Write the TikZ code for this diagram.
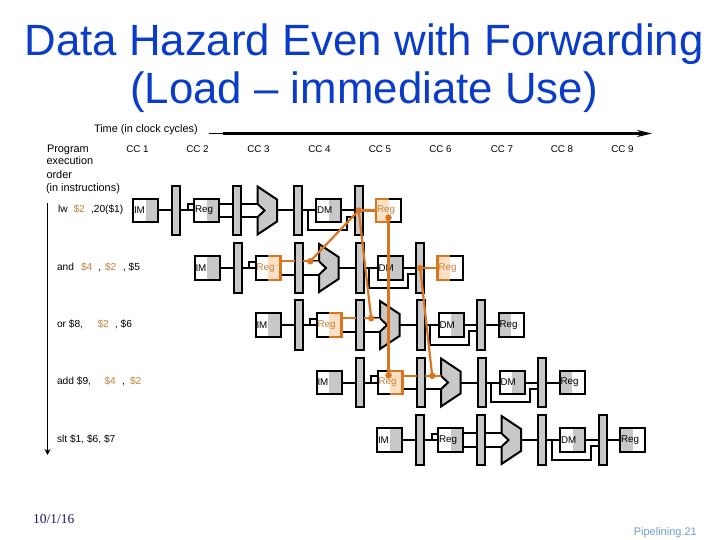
\documentclass[tikz,border=0pt]{standalone}
\usepackage{fontspec}
\setmainfont{Liberation Sans}
\newfontfamily\serifdate{Liberation Serif}
\usetikzlibrary{arrows.meta,calc}
\definecolor{latchgray}{RGB}{200,200,200}
\definecolor{fwdorange}{RGB}{217,118,35}
\definecolor{fwdlight}{RGB}{252,224,198}
\definecolor{fwdtext}{RGB}{196,132,60}
\definecolor{datenavy}{RGB}{25,25,110}
\definecolor{pagenum}{RGB}{110,160,205}
\definecolor{titleblue}{RGB}{10,60,200}
\tikzset{
  x=1pt,y=-1pt,
  small/.style={font=\fontsize{10.9}{12}\selectfont,inner sep=0pt,outer sep=0pt,anchor=base west},
  instr/.style={font=\fontsize{10.2}{12}\selectfont,inner sep=0pt,outer sep=0pt,anchor=base west},
  ccl/.style={font=\fontsize{9.8}{11}\selectfont,inner sep=0pt,anchor=base},
  titlet/.style={font=\fontsize{43.8}{50}\selectfont,inner sep=0pt,anchor=base,text=titleblue},
  wire/.style={draw=black,line width=2pt},
  fwd/.style={draw=fwdorange,line width=2.2pt},
  fwdthin/.style={draw=fwdorange,line width=1.6pt},
  latch/.style={draw=black,line width=2pt,fill=latchgray,minimum width=8pt,minimum height=49.5pt,inner sep=0pt,outer sep=0pt},
  unit/.style={draw=black,line width=2pt,fill=white,minimum width=25pt,minimum height=23.5pt,inner sep=0pt,outer sep=0pt,
    font=\fontsize{9.8}{11}\selectfont,text width=23pt,align=left},
  halfr/.style={path picture={\fill[#1] (path picture bounding box.north) rectangle (path picture bounding box.south east);}},
  halfl/.style={path picture={\fill[#1] (path picture bounding box.north west) rectangle (path picture bounding box.south);}},
  alu/.style={draw=black,line width=2pt,fill=latchgray,line join=miter},
  fwddot/.style={circle,fill=fwdorange,minimum size=6.5pt,inner sep=0pt,outer sep=0pt},
  idplain/.style={halfr=latchgray},
  idfwd/.style={halfr=fwdlight,text=fwdtext},
  wbplain/.style={halfl=latchgray},
  wbfwd/.style={halfl=fwdlight,text=fwdtext},
}
% #1 prefix, #2 x of IM, #3 row centre, #4 style of ID Reg, #5 style of WB Reg
\newcommand{\piperow}[5]{%
  \coordinate (#1u) at (#2,#3-6.7);
  \coordinate (#1d) at (#2,#3+6.7);
  \coordinate (#1c) at (#2,#3);
  \coordinate (#1fp) at (#2+116.7,#3-6.7);
  \node[unit,halfr=latchgray] (#1im) at (#2+13.5,#3) {IM};
  \node[latch] (#1la) at (#2+44.3,#3) {};
  \node[unit,#4] (#1id) at (#2+74.5,#3) {Reg};
  \node[latch] (#1lb) at (#2+105,#3) {};
  \node[latch] (#1lc) at (#2+166,#3) {};
  \node[unit,halfr=latchgray] (#1dm) at (#2+196.5,#3) {DM};
  \node[latch] (#1ld) at (#2+226.7,#3) {};
  \node[unit,#5] (#1wb) at (#2+256.5,#3) {Reg};
  \coordinate (#1alua) at (#2+125.5,#3-24);
  \coordinate (#1alub) at (#2+145,#3-11);
  \coordinate (#1aluc) at (#2+145,#3+11);
  \coordinate (#1alud) at (#2+125.5,#3+24);
  \coordinate (#1alue) at (#2+125.5,#3+6.7);
  \coordinate (#1aluf) at (#2+132.5,#3);
  \coordinate (#1alug) at (#2+125.5,#3-6.7);
  \draw[alu] (#1alua) -- (#1alub) -- (#1aluc) -- (#1alud) -- (#1alue) -- (#1aluf) -- (#1alug) -- cycle;
  \coordinate (#1alur) at ($(#1alub)!.5!(#1aluc)$);
  \path[wire] (#1im.east) -- (#1la.west);
  \path[wire] (#1la.east) -- (#1id.west);
  \path[wire] (#1id.west |- #1c) ++(-6.5,0) -- ++(0,-6.5) -- ++(6.5,0);
  \path[wire] (#1id.east |- #1u) -- (#1lb.west |- #1u);
  \path[wire] (#1id.east |- #1d) -- (#1lb.west |- #1d);
  \path[wire] (#1lb.east |- #1u) -- (#1alug);
  \path[wire] (#1lb.east |- #1d) -- (#1alue);
  \path[wire] (#1alur) -- (#1lc.west);
  \path[wire] (#1lc.east) -- (#1dm.west);
  \path[wire] (#1dm.east) -- (#1ld.west);
  \path[wire] (#1lc.east) ++(5.5,0) -- ++(0,19.5) -| ([xshift=5.5pt,yshift=-6.2pt]#1dm.east) -- ([yshift=-6.2pt]#1ld.west);
  \path[wire] (#1ld.east) -- (#1wb.west);
}
\begin{document}
\begin{tikzpicture}[line cap=butt]
\useasboundingbox (0,0) rectangle (720,540);
\fill[white] (0,0) rectangle (720,540);

\node[titlet] (t1) at (364,56) {Data Hazard Even with Forwarding};
\node[titlet] (t2) at (364,104) {(Load – immediate Use)};

\node[small] (time) at (94,133) {Time (in clock cycles)};
\coordinate (tstart) at (209,133.5);
\coordinate (tthick) at (223,133.5);
\coordinate (tend) at (652,133.5);
\draw[line width=.8pt] (tstart) -- (tthick);
\draw[line width=2.2pt,-{Stealth[length=15pt,width=7pt]}] (tthick) -- (tend);

\node[small] (p1) at (47,152.5) {Program};
\node[small] (p2) at (46.5,165) {execution};
\node[small] (p3) at (46.5,178.5) {order};
\node[small] (p4) at (46,191.5) {(in instructions)};
\coordinate (ostart) at (47.5,203);
\coordinate (oend) at (47.5,455);
\draw[line width=1.2pt,-{Stealth[length=6pt,width=6pt]}] (ostart) -- (oend);

\node[ccl] (cc1) at (137.5,152.5) {CC 1};
\node[ccl] (cc2) at (197.5,152.5) {CC 2};
\node[ccl] (cc3) at (258.5,152.5) {CC 3};
\node[ccl] (cc4) at (319.5,152.5) {CC 4};
\node[ccl] (cc5) at (380,152.5) {CC 5};
\node[ccl] (cc6) at (440.5,152.5) {CC 6};
\node[ccl] (cc7) at (502,152.5) {CC 7};
\node[ccl] (cc8) at (562,152.5) {CC 8};
\node[ccl] (cc9) at (622.5,152.5) {CC 9};

\node[instr] (a1) at (58,212.5) {lw};
\node[instr,text=fwdtext] (a2) at (73.5,212.5) {\$2};
\node[instr] (a3) at (91,212.5) {,20(\$1)};
\node[instr] (b1) at (57,270.5) {and};
\node[instr,text=fwdtext] (b2) at (81,270.5) {\$4};
\node[instr] (b3) at (98,270.5) {,};
\node[instr,text=fwdtext] (b4) at (105,270.5) {\$2};
\node[instr] (b5) at (123,270.5) {, \$5};
\node[instr] (c1) at (57,327) {or \$8,};
\node[instr,text=fwdtext] (c2) at (97.5,327) {\$2};
\node[instr] (c3) at (115,327) {, \$6};
\node[instr] (d1) at (57,384) {add \$9,};
\node[instr,text=fwdtext] (d2) at (104.5,384) {\$4};
\node[instr] (d3) at (122,384) {,};
\node[instr,text=fwdtext] (d4) at (130,384) {\$2};
\node[instr] (e1) at (57,442) {slt \$1, \$6, \$7};

\piperow{ra}{132}{210.5}{idplain}{wbfwd}
\piperow{rb}{193.5}{268}{idfwd}{wbfwd}
\piperow{rc}{254.5}{325}{idfwd}{wbplain}
\piperow{rd}{315.5}{382.5}{idfwd}{wbplain}
\piperow{re}{376}{440}{idplain}{wbplain}

% orange outlines of the registers that take part
\draw[fwd] (rawb.north) -- (rawb.north west) -- (rawb.south west) -- (rawb.south);
\draw[fwd] (rbwb.north) -- (rbwb.north west) -- (rbwb.south west) -- (rbwb.south);
\draw[fwd] (rbid.north) -- (rbid.north east) -- (rbid.south east) -- (rbid.south);
\draw[fwd] (rcid.north) -- (rcid.north east) -- (rcid.south east) -- (rcid.south);
\draw[fwd] (rdid.north) -- (rdid.north east) -- (rdid.south east) -- (rdid.south);

% forwarding paths
\coordinate (fwx) at ([yshift=7pt]rdid.center);
\draw[fwd] (rald.center) -- (rawb.west);
\draw[fwd] (rbld.center) -- (rbwb.west);
\draw[fwd] (rald.center) -- (rbfp);
\draw[fwd] (rald.center) -- (rcfp);
\draw[fwd] (rbld.center) -- (rdfp);
\draw[fwd] (rawb.center |- fwx) -- ([yshift=-7pt]rawb.center);
\draw[fwd] (rbid.east |- rbu) -- (rblb.west |- rbu);
\draw[fwd] (rblb.east |- rbu) -- (rbfp);
\draw[fwdthin] (rbfp) -- (rbalug);
\draw[fwd] (rcid.east |- rcu) -- (rclb.west |- rcu);
\draw[fwd] (rclb.east |- rcu) -- (rcfp);
\draw[fwdthin] (rcfp) -- (rcalug);
\draw[fwd] (rdid.east |- rdu) -- (rdlb.west |- rdu);
\draw[fwd] (rdlb.east |- rdu) -- (rdfp);
\draw[fwdthin] (rdfp) -- (rdalug);
\node[fwddot] (fa) at (rald.center) {};
\node[fwddot] (fb) at (rbld.center) {};
\node[fwddot] (fw) at ([yshift=-7pt]rawb.center) {};
\node[fwddot] (fr) at (rawb.center |- fwx) {};
\node[fwddot] (fpb) at (rbfp) {};
\node[fwddot] (fpc) at (rcfp) {};
\node[fwddot] (fpd) at (rdfp) {};

\node[font=\serifdate\fontsize{13.5}{15}\selectfont,text=datenavy,inner sep=0pt,anchor=base west] (date) at (33,523) {10/1/16};
\node[font=\fontsize{11}{13}\selectfont,text=pagenum,inner sep=0pt,anchor=base east] (page) at (697,535) {Pipelining.21};
\end{tikzpicture}
\end{document}
